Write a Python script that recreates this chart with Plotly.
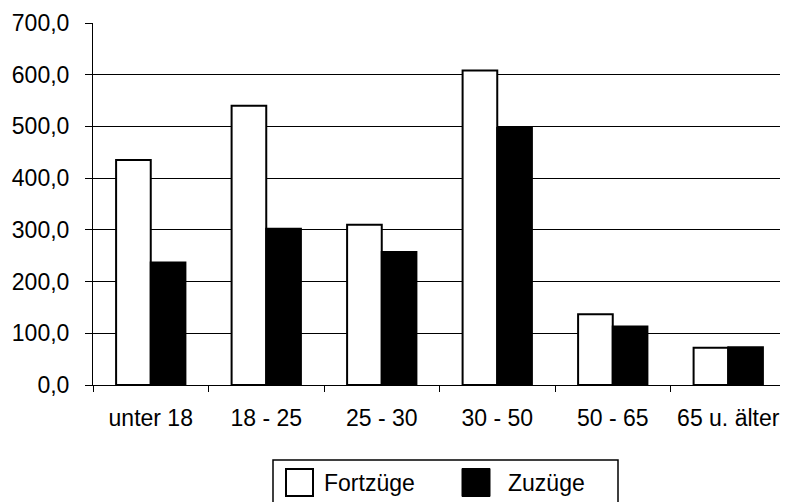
import plotly.graph_objects as go

categories = ["unter 18", "18 - 25", "25 - 30", "30 - 50", "50 - 65", "65 u. älter"]
fortzuege = [435, 540, 310, 608, 137, 72]
zuzuege = [237, 302, 257, 497, 113, 73]
series_names = ["Fortzüge", "Zuzüge"]
y_ticks = [0, 100, 200, 300, 400, 500, 600, 700]

OFF = 8  # page body margin
W, H = 788 - OFF, 502 - OFF
L, R, T, B = 93 - OFF, 2, 23 - OFF, 117
FONT = "Liberation Sans, Arial, sans-serif"
FS = 23

fig = go.Figure()
fig.add_trace(go.Bar(x=categories, y=fortzuege, name=series_names[0],
                     marker=dict(color="white", line=dict(color="black", width=2))))
fig.add_trace(go.Bar(x=categories, y=zuzuege, name=series_names[1],
                     marker=dict(color="black", line=dict(color="black", width=2))))

# page pixel -> paper helpers for the hand-drawn legend
pw, ph = W - L - R, H - T - B
def px(x):
    return (x - OFF - L) / pw
def py(y):
    return (H - B - (y - OFF)) / ph

shapes = [
    dict(type="rect", xref="paper", yref="paper", x0=px(273), x1=px(618), y0=py(530), y1=py(460),
         line=dict(color="black", width=1.5), fillcolor="rgba(0,0,0,0)"),
    dict(type="rect", xref="paper", yref="paper", x0=px(286), x1=px(313), y0=py(496), y1=py(469),
         line=dict(color="black", width=2), fillcolor="white"),
    dict(type="rect", xref="paper", yref="paper", x0=px(462), x1=px(490), y0=py(496.5), y1=py(468.5),
         line=dict(color="black", width=1), fillcolor="black"),
]
annotations = [
    dict(xref="paper", yref="paper", x=px(322), y=py(483), text=series_names[0], showarrow=False,
         xanchor="left", yanchor="middle", font=dict(family=FONT, size=FS, color="black")),
    dict(xref="paper", yref="paper", x=px(506), y=py(483), text=series_names[1], showarrow=False,
         xanchor="left", yanchor="middle", font=dict(family=FONT, size=FS, color="black")),
]

fig.update_layout(
    width=W, height=H,
    margin=dict(l=L, r=R, t=T, b=B),
    paper_bgcolor="white", plot_bgcolor="white",
    barmode="group", bargap=0.4, bargroupgap=0,
    showlegend=False,
    separators=",.",
    font=dict(family=FONT, size=FS, color="black"),
    shapes=shapes, annotations=annotations,
)
fig.update_xaxes(
    type="category", tickson="boundaries", ticks="outside", ticklen=6, tickwidth=1, tickcolor="black",
    showline=True, linecolor="black", linewidth=1, showgrid=False,
    tickfont=dict(family=FONT, size=FS, color="black"), ticklabelstandoff=12,
)
fig.update_yaxes(
    range=[0, 700], tickvals=y_ticks, tickformat=".1f",
    ticks="outside", ticklen=7, tickwidth=1, tickcolor="black",
    showline=True, linecolor="black", linewidth=1,
    showgrid=True, gridcolor="black", gridwidth=1, zeroline=False,
    tickfont=dict(family=FONT, size=FS, color="black"), ticklabelstandoff=11,
)

fig.write_html("out.html")
